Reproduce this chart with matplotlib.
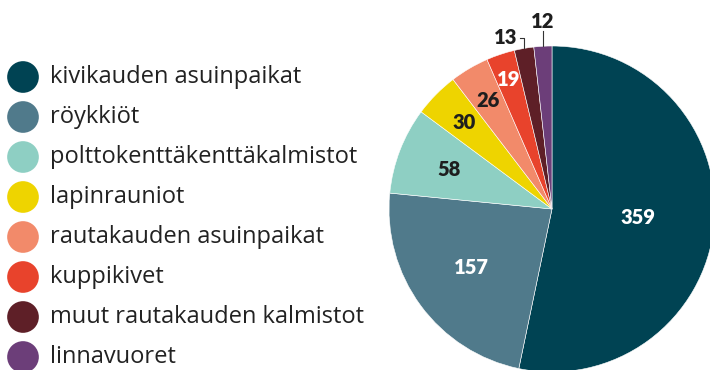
import numpy as np
import matplotlib.pyplot as plt

labels = ['kivikauden asuinpaikat', 'röykkiöt', 'polttokenttäkenttäkalmistot',
          'lapinrauniot', 'rautakauden asuinpaikat', 'kuppikivet',
          'muut rautakauden kalmistot', 'linnavuoret']
values = [359, 157, 58, 30, 26, 19, 13, 12]
colors = ['#004353', '#507a8b', '#8ecfc3', '#eed400', '#f28a6a', '#e8432c',
          '#5e1f27', '#6c3e79']
text_colors = ['white', 'white', '#1e1e1e', '#1e1e1e', '#1e1e1e', 'white']
label_r = [0.53, 0.61, 0.68, 0.76, 0.77, 0.84]

W, H = 710, 370
fig = plt.figure(figsize=(W / 100, H / 100), dpi=100)
ax = fig.add_axes([0, 0, 1, 1])

# pie in pixel units
cx, cy, R = 552, H - 209, 163
ax.pie(values, colors=colors, startangle=90, counterclock=False,
       center=(cx, cy), radius=R,
       wedgeprops=dict(edgecolor='white', linewidth=0.4))
ax.set_xlim(0, W)
ax.set_ylim(0, H)
ax.set_aspect('equal')
ax.axis('off')

# angles of slice centres
tot = float(sum(values))
cum = np.cumsum([0] + values)
mids = [np.deg2rad(90 - 360 * (cum[i] + values[i] / 2) / tot) for i in range(len(values))]

numfont = dict(family='Lato', weight='heavy', fontsize=14.5)
for i in range(6):
    r = label_r[i] * R
    ax.text(cx + r * np.cos(mids[i]), cy + r * np.sin(mids[i]), str(values[i]),
            ha='center', va='center', color=text_colors[i], **numfont)

# small slices get leader lines
a = mids[6]
x0, y0 = cx + R * np.cos(a), cy + R * np.sin(a)
ax.plot([x0, x0, x0 - 4], [y0, H - 38, H - 38], color='#333333', lw=0.8)
ax.text(x0 - 7, H - 38, str(values[6]), ha='right', va='center', color='#1e1e1e', **numfont)
a = mids[7]
x0, y0 = cx + R * np.cos(a), cy + R * np.sin(a)
ax.plot([x0, x0], [y0, H - 31], color='#333333', lw=0.8)
ax.text(x0, H - 21, str(values[7]), ha='center', va='center', color='#1e1e1e', **numfont)

# legend
for i, (lab, col) in enumerate(zip(labels, colors)):
    y = H - 77 - 40 * i
    ax.scatter([23], [y], s=520, color=col, edgecolor='none')
    ax.text(50, y, lab, ha='left', va='center', fontsize=17,
            family='Open Sans', color='#222222')

fig.savefig('out.png', dpi=100)
